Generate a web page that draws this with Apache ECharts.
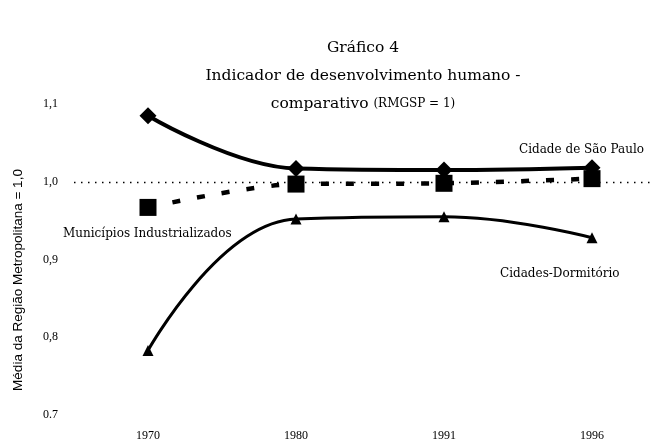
<!DOCTYPE html>
<html>
<head>
<meta charset="utf-8">
<script src="https://cdn.jsdelivr.net/npm/echarts@6/dist/echarts.min.js"></script>
<style>html,body{margin:0;padding:0;background:#fff}#c{width:652px;height:443px}</style>
</head>
<body>
<div id="c"></div>
<script>
var categories = ['1970', '1980', '1991', '1996'];
var saoPaulo = [1.085, 1.017, 1.015, 1.018];
var municipios = [0.967, 0.997, 0.998, 1.004];
var dormitorio = [0.783, 0.952, 0.955, 0.928];
var yTickLabels = {'0.7': '0.7', '0.8': '0,8', '0.9': '0,9', '1': '1,0', '1.1': '1,1'};

var serif = '"Liberation Serif", "DejaVu Serif", serif';
var titleSerif = '"DejaVu Serif", serif';
var chart = echarts.init(document.getElementById('c'));
chart.setOption({
  backgroundColor: '#fff',
  animation: false,
  title: {
    left: 358, top: 29, textAlign: 'center',
    text: '{a|Gráfico 4}\n{a|Indicador de desenvolvimento humano -}\n{a|comparativo }{b|(RMGSP = 1)}',
    textStyle: {
      fontWeight: 'normal',
      rich: {
        a: {fontFamily: titleSerif, fontSize: 15.5, fontWeight: 'normal', color: '#000', lineHeight: 28},
        b: {fontFamily: titleSerif, fontSize: 12, fontWeight: 'normal', color: '#000', lineHeight: 28}
      }
    }
  },
  grid: {left: 74, right: -14, top: 104, bottom: 28, outerBoundsMode: 'none', containLabel: false},
  xAxis: {
    type: 'category',
    data: categories,
    boundaryGap: true,
    axisLine: {show: false},
    axisTick: {show: false},
    axisLabel: {fontFamily: serif, fontSize: 12, color: '#000', margin: 15}
  },
  yAxis: {
    type: 'value',
    min: 0.7, max: 1.1, interval: 0.1,
    splitLine: {show: false},
    axisLine: {show: false},
    axisTick: {show: false},
    axisLabel: {
      fontFamily: serif, fontSize: 12, color: '#000', margin: 16,
      formatter: function (v) { var k = String(Math.round(v * 10) / 10); return yTickLabels[k] || ''; }
    }
  },
  series: [
    {
      name: 'Cidade de São Paulo', type: 'line', data: saoPaulo, smooth: 0.4,
      symbol: 'diamond', symbolSize: 17,
      lineStyle: {color: '#000', width: 4},
      itemStyle: {color: '#000'},
      markLine: {
        silent: true, symbol: 'none', label: {show: false},
        lineStyle: {color: '#000', type: [1.5, 5.5], width: 1.3},
        data: [{yAxis: 1.0}]
      },
      z: 3
    },
    {
      name: 'Municípios Industrializados', type: 'line', data: municipios, smooth: 0.3,
      symbol: 'rect', symbolSize: 17,
      lineStyle: {color: '#000', width: 4.5, type: [8, 17]},
      itemStyle: {color: '#000'},
      z: 4
    },
    {
      name: 'Cidades-Dormitório', type: 'line', data: dormitorio, smooth: 0.45,
      symbol: 'triangle', symbolSize: 11,
      lineStyle: {color: '#000', width: 3},
      itemStyle: {color: '#000'},
      z: 3
    }
  ],
  graphic: [
    {type: 'text', x: 18, y: 280, rotation: Math.PI / 2,
      style: {text: 'Média da Região Metropolitana = 1,0', font: '13.5px "Liberation Sans", Arial, sans-serif', fill: '#000', textAlign: 'center', textVerticalAlign: 'middle'}},
    {type: 'text', x: 519, y: 144, style: {text: 'Cidade de São Paulo', font: '12px ' + titleSerif, fill: '#000'}},
    {type: 'text', x: 63, y: 228, style: {text: 'Municípios Industrializados', font: '12px ' + titleSerif, fill: '#000'}},
    {type: 'text', x: 500, y: 268, style: {text: 'Cidades-Dormitório', font: '12px ' + titleSerif, fill: '#000'}}
  ]
});
</script>
</body>
</html>
